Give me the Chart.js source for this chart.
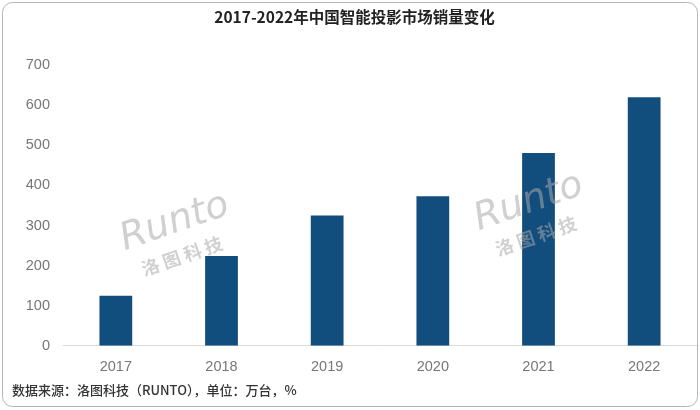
<!DOCTYPE html>
<html>
<head>
<meta charset="utf-8">
<script src="https://cdn.jsdelivr.net/npm/chart.js@4"></script>
<style>
html,body{margin:0;padding:0;background:#fff;}
#wrap{width:700px;height:410px;position:relative;}
</style>
</head>
<body>
<div id="wrap"><canvas id="c" width="700" height="410"></canvas></div>
<script>
const categories = ['2017','2018','2019','2020','2021','2022'];
const salesValues = [125, 224, 325, 373, 481, 620];
const yTicks = [0, 100, 200, 300, 400, 500, 600, 700];
const titleText = '2017-2022年中国智能投影市场销量变化';
const sourceText = '数据来源：洛图科技（RUNTO），单位：万台，%';

const frame = {
  id: 'frame',
  beforeDraw(chart) {
    const ctx = chart.ctx;
    ctx.save();
    ctx.fillStyle = '#fff';
    ctx.fillRect(0, 0, chart.width, chart.height);
    ctx.restore();
  },
  afterDraw(chart) {
    const ctx = chart.ctx;
    ctx.save();
    ctx.strokeStyle = '#b5b5b5';
    ctx.lineWidth = 1;
    ctx.beginPath();
    ctx.roundRect(2.5, 2.5, 695, 404, 10);
    ctx.stroke();
    ctx.restore();
  }
};

const watermark = {
  id: 'watermark',
  afterDatasetsDraw(chart) {
    const ctx = chart.ctx;
    const spots = [[178, 232], [532, 212]];
    ctx.save();
    spots.forEach(([x, y]) => {
      ctx.save();
      ctx.translate(x, y);
      ctx.rotate(-0.33);
      ctx.fillStyle = 'rgba(170,170,170,0.55)';
      ctx.font = 'italic 300 38px "DejaVu Sans"';
      ctx.textAlign = 'center';
      ctx.textBaseline = 'middle';
      ctx.fillText('Runto', 0, -10);
      ctx.font = 'bold 18px "Noto Sans CJK SC"';
      ctx.fillText('洛 图 科 技', -4, 24);
      ctx.restore();
    });
    ctx.restore();
  }
};

new Chart(document.getElementById('c'), {
  type: 'bar',
  data: {
    labels: categories,
    datasets: [{
      data: salesValues,
      backgroundColor: '#114d7d',
      borderWidth: 0,
      barPercentage: 0.62,
      categoryPercentage: 0.5
    }]
  },
  options: {
    responsive: false,
    animation: false,
    devicePixelRatio: 1,
    layout: { padding: { left: 12, right: 3, top: 0, bottom: 0 } },
    plugins: {
      legend: { display: false },
      tooltip: { enabled: false },
      title: {
        display: true,
        text: titleText,
        color: '#222',
        font: { family: '"Noto Sans CJK SC"', size: 15.5, weight: 'bold', lineHeight: 1.2 },
        padding: { top: 8, bottom: 38.6 }
      },
      subtitle: {
        display: true,
        position: 'bottom',
        align: 'start',
        text: sourceText,
        color: '#333',
        font: { family: '"Noto Sans CJK SC"', size: 13, weight: '500', lineHeight: 1.2 },
        padding: { top: 6, bottom: 12.6 }
      }
    },
    scales: {
      x: {
        afterFit(scale) { scale.height = 30; },
        grid: { display: false, drawTicks: false },
        border: { display: true, color: '#d9d9d9', width: 1 },
        ticks: { color: '#777', font: { family: '"Liberation Sans"', size: 14.5 }, padding: 12 }
      },
      y: {
        min: 0,
        max: 700,
        afterFit(scale) { scale.width = 51; },
        afterBuildTicks(scale) { scale.ticks = yTicks.map(v => ({ value: v })); },
        grid: { display: false, drawTicks: false },
        border: { display: false },
        ticks: { color: '#777', font: { family: '"Liberation Sans"', size: 14.5 }, padding: 13 }
      }
    }
  },
  plugins: [frame, watermark]
});
</script>
</body>
</html>
